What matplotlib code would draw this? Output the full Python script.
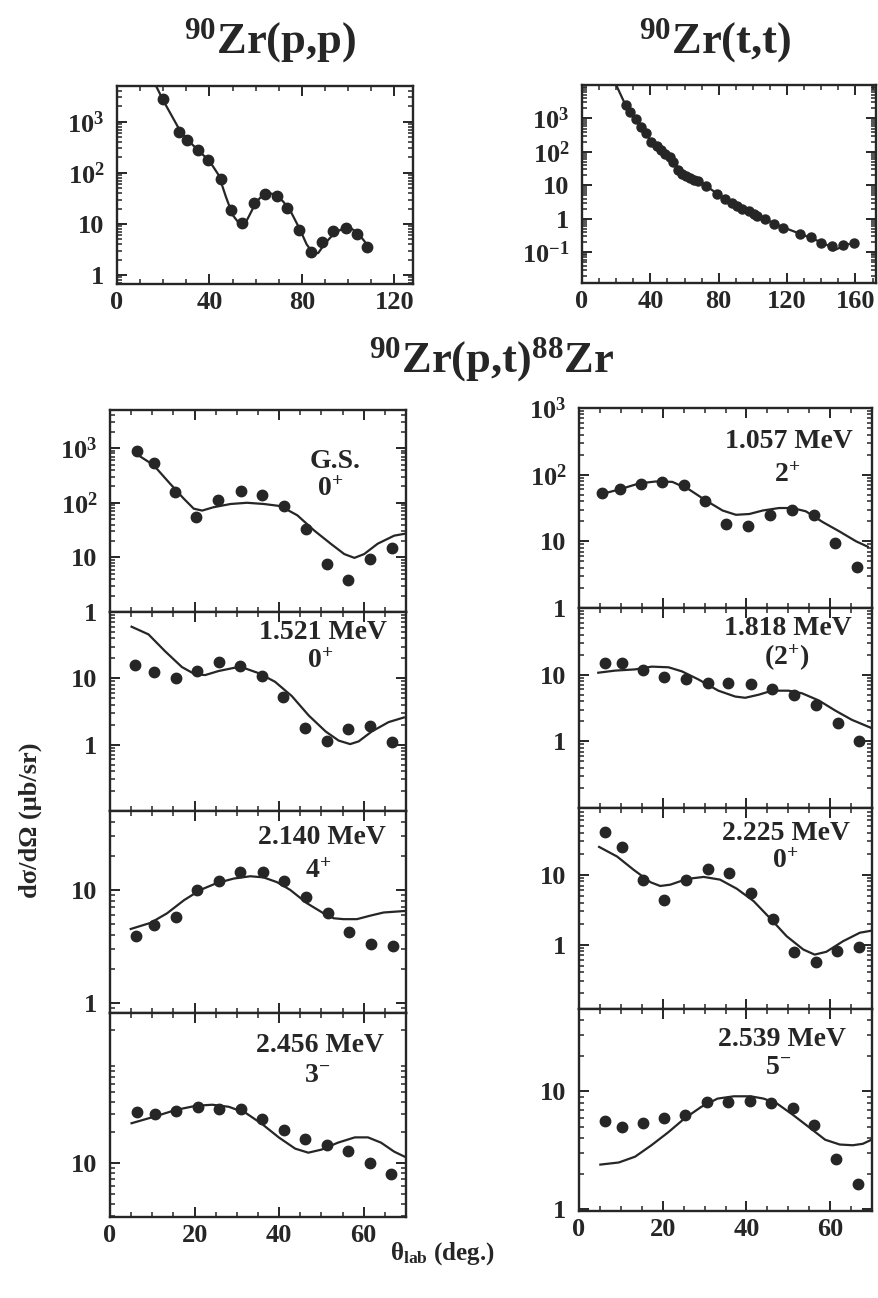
import matplotlib
matplotlib.use("Agg")
import matplotlib.pyplot as plt
from matplotlib.ticker import LogLocator, NullFormatter, MultipleLocator
import numpy as np

plt.rcParams['font.family'] = ['Liberation Serif', 'DejaVu Serif']
plt.rcParams['font.weight'] = 'bold'
plt.rcParams['mathtext.fontset'] = 'custom'
plt.rcParams['mathtext.rm'] = 'Liberation Serif:bold'
plt.rcParams['mathtext.it'] = 'Liberation Serif:italic:bold'
plt.rcParams['mathtext.bf'] = 'Liberation Serif:bold'
plt.rcParams['mathtext.default'] = 'rm'

INK = '#262626'

# ---- 90Zr(p,p) elastic
pp_ang = [19.8, 26.9, 30.3, 34.9, 39.5, 44.8, 49.1, 54.2, 59.3, 63.9, 69.1,
          73.7, 78.7, 83.8, 88.8, 93.5, 99.1, 103.7, 108.2]
pp_xs = [2750, 630, 430, 280, 177, 77, 19, 10.5, 26, 39, 36,
         20.5, 7.6, 2.8, 4.4, 7.4, 8.5, 6.5, 3.5]
pp_fit_ang = [16.8, 20, 27, 31, 35, 40, 44, 47, 50, 53, 55, 57, 60, 63, 66,
              69, 72, 75, 79, 82, 85, 87, 90, 94, 98, 101, 104, 107, 109]
pp_fit_xs = [5100, 2600, 700, 420, 280, 170, 90, 35, 15, 10, 9.5, 14, 26, 37,
             40, 37, 27, 18, 8, 4, 2.6, 2.7, 4.2, 6.6, 8.3, 8.3, 6.8, 4.6, 3.3]

# ---- 90Zr(t,t) elastic
tt_ang = [25.7, 28, 31.5, 34.8, 37.6, 40.5, 43.8, 46.3, 48.8, 51.2, 53.5, 56,
          58.5, 60.8, 63, 65.6, 68, 72.8, 79, 83.6, 87.5, 90.7, 93.6, 97.5,
          100.4, 102.3, 107, 112.5, 117.8, 127.4, 133.8, 140, 146, 152.5, 158.9]
tt_xs = [2512, 1585, 933, 562, 355, 200, 148, 112, 89, 68, 50, 29.5,
         22.4, 18.6, 17, 14.8, 13.5, 9.3, 5.4, 4.0, 2.95, 2.34, 2.0, 1.7,
         1.41, 1.17, 1.0, 0.71, 0.54, 0.355, 0.28, 0.186, 0.158, 0.17, 0.186]
tt_fit_ang = [20, 25, 30, 35, 40, 45, 50, 55, 60, 65, 70, 75, 80, 85, 90, 95,
              100, 105, 110, 115, 120, 125, 130, 135, 140, 144, 147, 150, 153, 156]
tt_fit_xs = [10000, 2818, 1122, 525, 224, 126, 79, 40, 21, 15.8, 12, 7.9, 5.2,
             3.6, 2.6, 1.9, 1.41, 1.1, 0.83, 0.63, 0.5, 0.4, 0.32, 0.25, 0.2,
             0.158, 0.112, 0.13, 0.158, 0.174]

# ---- 90Zr(p,t)88Zr states
gs_ang = [6.3, 10.4, 15.4, 20.4, 25.5, 30.9, 36, 41.1, 46.3, 51.3, 56.3, 61.6, 66.7]
gs_xs = [890, 525, 158, 55, 114, 166, 138, 86, 33, 7.5, 3.9, 9.3, 15]
gs_fit_ang = [5.9, 10.3, 14.2, 17.4, 19.8, 21.8, 24.5, 28.5, 32.4, 36.4, 40.3,
              44.3, 48.3, 52.2, 55.4, 57.8, 60.1, 63.3, 67.2, 69.6]
gs_fit_xs = [813, 490, 224, 120, 78, 72, 83, 95, 100, 95, 87, 59, 31, 17.8,
             11.5, 9.8, 11.5, 17.8, 25, 27]

s1521_ang = [5.9, 10.3, 15.5, 20.6, 25.7, 30.8, 35.9, 41, 46.2, 51.3, 56.4, 61.6, 66.7]
s1521_xs = [15.7, 12.5, 10, 13, 17.9, 15.6, 10.8, 5.3, 1.8, 1.15, 1.7, 1.9, 1.1]
s1521_fit_ang = [5.1, 9.1, 13, 17, 20.1, 22.5, 25.7, 29.6, 32, 35.1, 39, 43, 47,
                 51, 54.1, 56.8, 58.8, 61.9, 65.9, 69.5]
s1521_fit_xs = [60, 46, 25.7, 14.8, 11.5, 11.2, 12.9, 14.5, 14.1, 12, 8.9, 5.4,
                2.75, 1.58, 1.15, 1.02, 1.12, 1.58, 2.19, 2.57]

s2140_ang = [6.1, 10.4, 15.5, 20.6, 25.7, 30.8, 36.1, 41.2, 46.4, 51.5, 56.6, 61.7, 66.9]
s2140_xs = [3.9, 4.9, 5.7, 9.9, 12, 14.5, 14.4, 12.1, 8.6, 6.2, 4.2, 3.3, 3.2]
s2140_fit_ang = [4.9, 9.6, 13.5, 17.5, 21.4, 25.3, 29.3, 33.2, 36.3, 39.5, 42.6,
                 46.6, 50.5, 52.9, 55.2, 58.4, 61.5, 64.7, 69.8]
s2140_fit_xs = [4.5, 5.1, 6.2, 8.1, 10, 11.5, 12.6, 13.2, 12.9, 11.7, 10, 7.6,
                6.2, 5.6, 5.5, 5.5, 5.9, 6.3, 6.5]

s2456_ang = [6.3, 10.7, 15.6, 20.7, 25.8, 30.9, 36, 41.2, 46.1, 51.2, 56.4, 61.4, 66.5]
s2456_xs = [31.7, 29.9, 32.4, 35.2, 33.5, 33.5, 26.7, 21, 17, 15.1, 13, 10, 7.7]
s2456_fit_ang = [5.1, 10.2, 15.6, 20.3, 24.2, 28.1, 32.1, 36, 39.9, 43.8, 46.9,
                 50, 53.9, 57.9, 61, 64.1, 67.2, 69.7]
s2456_fit_xs = [24.5, 28.2, 33.1, 36.3, 37.2, 35.5, 30.9, 24, 17.8, 13.8, 12.6,
                13.5, 15.8, 17.8, 17.8, 15.8, 12.9, 11.5]

s1057_ang = [5.6, 9.8, 14.8, 19.9, 25, 30.1, 35.2, 40.4, 45.7, 51, 56.2, 61.2, 66.4]
s1057_xs = [53, 60, 73, 78, 71, 40, 18.5, 17, 25, 30, 25, 9.5, 4.1]
s1057_fit_ang = [4.8, 9.6, 14.4, 18.3, 22.3, 26.3, 30.3, 34.3, 37.5, 40.7, 43.9,
                 47.8, 51, 54.2, 58.2, 62.2, 66.2, 69]
s1057_fit_xs = [50, 60, 74, 79, 78, 60, 41, 29, 25, 25.7, 29, 31.6, 31.6, 28.2,
                19.5, 14.1, 10, 8.3]

s1818_ang = [6.1, 10.2, 15.2, 20.3, 25.5, 30.7, 35.7, 41.1, 46.1, 51.3, 56.6, 61.8, 66.8]
s1818_xs = [15.2, 14.8, 11.6, 9.3, 8.5, 7.6, 7.4, 7.2, 6.2, 5, 3.5, 1.9, 1.0]
s1818_fit_ang = [4.6, 8.6, 13.4, 17.4, 21.4, 24.6, 28.5, 33.3, 37.3, 39.7, 42.9,
                 46.1, 50.1, 53.3, 57.3, 61.2, 65.2, 69.9]
s1818_fit_xs = [10.7, 11.5, 12, 13.2, 12.9, 11.2, 8.5, 5.75, 4.7, 4.5, 5, 5.75,
                5.75, 5.25, 4.1, 2.9, 2.1, 1.58]

s2225_ang = [6.3, 10.3, 15.3, 20.4, 25.6, 30.7, 35.9, 41, 46.3, 51.3, 56.6, 61.7, 66.8]
s2225_xs = [41.5, 24.8, 8.3, 4.3, 8.5, 12, 10.5, 5.5, 2.3, 0.79, 0.57, 0.8, 0.93]
s2225_fit_ang = [4.8, 9.1, 13.1, 17.1, 19.4, 21.8, 25.8, 29.8, 33.7, 37.7, 41.7,
                 45.6, 49.6, 53.6, 56.3, 59.1, 63.1, 67.1, 69.8]
s2225_fit_xs = [25, 18.2, 11.7, 7.8, 6.9, 7.2, 8.7, 9.3, 8.5, 6.3, 4.2, 2.4,
                1.32, 0.85, 0.72, 0.79, 1.12, 1.48, 1.58]

s2539_ang = [6.3, 10.2, 15.2, 20.3, 25.4, 30.6, 35.7, 40.8, 45.9, 51.2, 56.2, 61.5, 66.6]
s2539_xs = [5.6, 5.0, 5.4, 6.0, 6.35, 8.2, 8.1, 8.3, 8.0, 7.3, 5.2, 2.7, 1.65]
s2539_fit_ang = [5.1, 9.5, 13.4, 17.3, 21.3, 25.2, 29.2, 33.1, 37, 41, 44.1, 47.3,
                 51.2, 55.2, 58.8, 62.3, 65.4, 67.8, 69.9]
s2539_fit_xs = [2.4, 2.5, 2.8, 3.5, 4.5, 5.9, 7.4, 8.7, 9.1, 9.1, 8.7, 7.9, 6.3,
                4.9, 3.9, 3.55, 3.5, 3.6, 3.9]

W, H = 879, 1298
fig = plt.figure(figsize=(W / 100, H / 100), dpi=100)


def px_axes(left, right, top, bottom):
    return fig.add_axes([left / W, 1 - bottom / H, (right - left) / W, (bottom - top) / H])


def style(ax, ylim, yt, ylab, xlim, xmaj, xmin, xlabels=True):
    ax.set_yscale('log')
    ax.set_xlim(*xlim)
    ax.set_ylim(*ylim)
    ax.set_yticks(yt)
    ax.set_yticklabels(ylab)
    ax.yaxis.set_minor_locator(LogLocator(base=10, subs=np.arange(2, 10), numticks=20))
    ax.yaxis.set_minor_formatter(NullFormatter())
    ax.xaxis.set_major_locator(MultipleLocator(xmaj))
    ax.xaxis.set_minor_locator(MultipleLocator(xmin))
    for s in ax.spines.values():
        s.set_linewidth(1.7)
        s.set_color(INK)
    ax.tick_params(which='both', direction='in', top=True, right=True,
                   color=INK, labelcolor=INK, labelsize=19)
    ax.tick_params(which='major', length=7, width=1.4)
    ax.tick_params(which='minor', length=3.5, width=1.1)
    ax.tick_params(axis='y', pad=9)
    ax.tick_params(axis='x', pad=5)
    if not xlabels:
        ax.set_xticklabels([])


def draw(ax, ang, xs, fang, fxs, ms=7.5):
    ax.plot(fang, fxs, color=INK, lw=1.6)
    ax.plot(ang, xs, 'o', color=INK, ms=ms, mec=INK)


# top panels
ax = px_axes(117, 413, 86, 284)
style(ax, (0.67, 5000), [1000, 100, 10, 1], ['$10^3$', '$10^2$', '10', '1'],
      (0, 128), 40, 10)
draw(ax, pp_ang, pp_xs, pp_fit_ang, pp_fit_xs, ms=7.5)

ax = px_axes(582, 876, 85, 283)
style(ax, (0.012, 1e4), [1000, 100, 10, 1, 0.1],
      ['$10^3$', '$10^2$', '10', '1', '$10^{-1}$'], (0, 172), 40, 10)
draw(ax, tt_ang, tt_xs, tt_fit_ang, tt_fit_xs, ms=6.5)

fig.text(270 / W, 1 - 53 / H, r'$^{90}$Zr(p,p)', ha='center', va='baseline',
         fontsize=32, color=INK)
fig.text(715 / W, 1 - 53 / H, r'$^{90}$Zr(t,t)', ha='center', va='baseline',
         fontsize=32, color=INK)
fig.text(492 / W, 1 - 372 / H, r'$^{90}$Zr(p,t)$^{88}$Zr', ha='center',
         va='baseline', fontsize=32, color=INK)

# lower panels
left_rows = [(410, 612), (612, 811), (811, 1013), (1013, 1217)]
right_rows = [(408, 608), (608, 808), (808, 1009), (1009, 1211)]

left_sets = [
    (gs_ang, gs_xs, gs_fit_ang, gs_fit_xs, (1, 5000), [1000, 100, 10, 1],
     ['$10^3$', '$10^2$', '10', '1'], 'G.S.', '$0^{+}$'),
    (s1521_ang, s1521_xs, s1521_fit_ang, s1521_fit_xs, (0.1, 100), [10, 1],
     ['10', '1'], '1.521 MeV', '$0^{+}$'),
    (s2140_ang, s2140_xs, s2140_fit_ang, s2140_fit_xs, (0.81, 50), [10, 1],
     ['10', '1'], '2.140 MeV', '$4^{+}$'),
    (s2456_ang, s2456_xs, s2456_fit_ang, s2456_fit_xs, (2.95, 295), [10],
     ['10'], '2.456 MeV', '$3^{-}$'),
]
right_sets = [
    (s1057_ang, s1057_xs, s1057_fit_ang, s1057_fit_xs, (1, 1000), [1000, 100, 10, 1],
     ['$10^3$', '$10^2$', '10', '1'], '1.057 MeV', '$2^{+}$'),
    (s1818_ang, s1818_xs, s1818_fit_ang, s1818_fit_xs, (0.1, 100), [10, 1],
     ['10', '1'], '1.818 MeV', '$(2^{+})$'),
    (s2225_ang, s2225_xs, s2225_fit_ang, s2225_fit_xs, (0.12, 90), [10, 1],
     ['10', '1'], '2.225 MeV', '$0^{+}$'),
    (s2539_ang, s2539_xs, s2539_fit_ang, s2539_fit_xs, (0.97, 50), [10, 1],
     ['10', '1'], '2.539 MeV', '$5^{-}$'),
]

label_pos_left = [(335, 462, 330, 490), (323, 633, 320, 662), (322, 838, 318, 872),
                  (320, 1045, 317, 1076)]
label_pos_right = [(789, 442, 787, 476), (788, 628, 787, 658), (786, 833, 785, 862),
                   (782, 1040, 778, 1067)]

for (x0, x1), rows, sets, lpos in [((110, 406), left_rows, left_sets, label_pos_left),
                                   ((579, 872), right_rows, right_sets, label_pos_right)]:
    for i, ((top, bot), st, lp) in enumerate(zip(rows, sets, lpos)):
        ang, xs, fang, fxs, ylim, yt, ylab, name, jp = st
        ax = px_axes(x0, x1, top, bot)
        style(ax, ylim, yt, ylab, (0, 70), 20, 5, xlabels=(i == 3))
        draw(ax, ang, xs, fang, fxs)
        fig.text(lp[0] / W, 1 - lp[1] / H, name, ha='center', va='center',
                 fontsize=20, color=INK)
        fig.text(lp[2] / W, 1 - lp[3] / H, jp, ha='center', va='center',
                 fontsize=20, color=INK)

fig.text(30 / W, 1 - 820 / H, 'dσ/dΩ (μb/sr)', rotation=90, ha='center',
         va='center', fontsize=19, color=INK)
fig.text(442 / W, 1 - 1254 / H, r'θ$_{\mathrm{lab}}$ (deg.)', ha='center',
         va='center', fontsize=18, color=INK)

fig.savefig('out.png', dpi=100, facecolor='white')
